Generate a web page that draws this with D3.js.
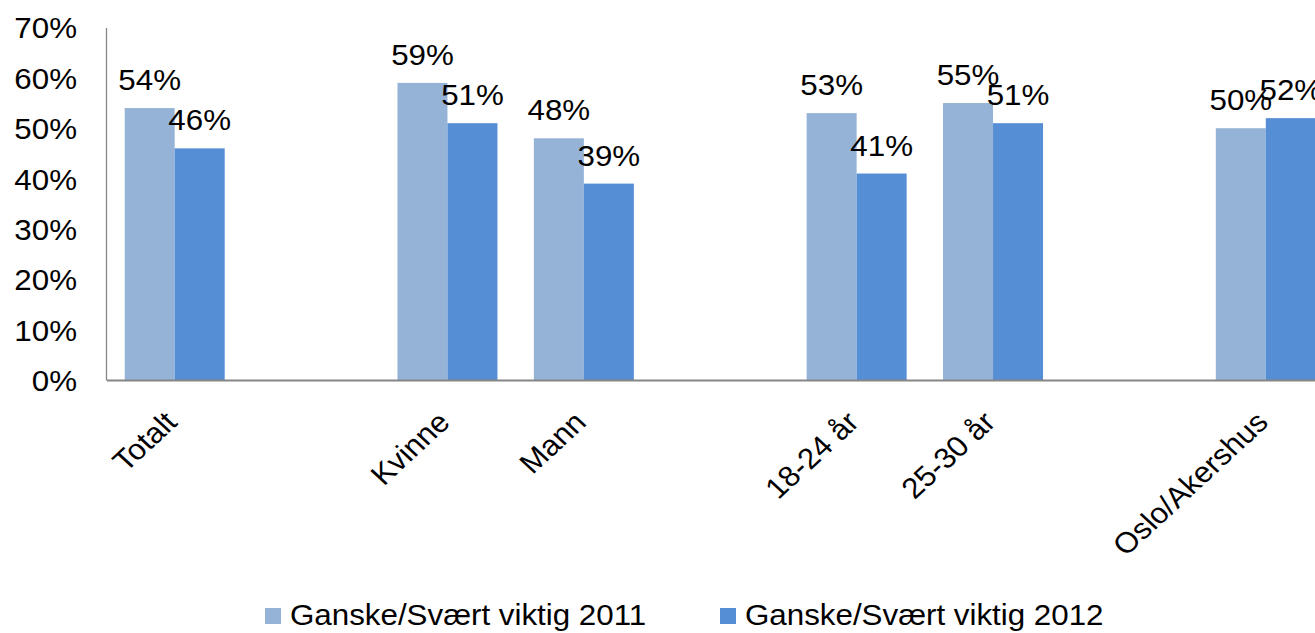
<!DOCTYPE html>
<html>
<head>
<meta charset="utf-8">
<script src="https://cdn.jsdelivr.net/npm/d3@7"></script>
<style>
  body { margin: 0; background: #fff; }
  svg { display: block; font-family: "Liberation Sans", Arial, sans-serif; }
  .axis text { fill: #000; }
</style>
</head>
<body>
<svg width="1315" height="633"></svg>
<script>
// chart data (empty strings are the gaps between groups)
var categories = ['Totalt', '', 'Kvinne', 'Mann', '', '18-24 år', '25-30 år', '', 'Oslo/Akershus'];
var seriesNames = ['Ganske/Svært viktig 2011', 'Ganske/Svært viktig 2012'];
var values2011 = [0.54, null, 0.59, 0.48, null, 0.53, 0.55, null, 0.50];
var values2012 = [0.46, null, 0.51, 0.39, null, 0.41, 0.51, null, 0.52];
var yTicks = [0, 0.1, 0.2, 0.3, 0.4, 0.5, 0.6, 0.7];
var colors = ['#95b3d7', '#558ed5'];

var svg = d3.select('svg');
var fontSize = 29;
var stretch = 1.08;   // the source text is a bit wider than plain Arial

var x0 = d3.scaleBand()
    .domain(d3.range(categories.length))
    .range([106.5, 1334]);

var x1 = d3.scaleBand()
    .domain([0, 1])
    .range([0, x0.bandwidth()])
    .paddingOuter(0.364);

var y = d3.scaleLinear()
    .domain([0, 0.7])
    .range([380, 27.5]);

// build rows for the bars
var rows = [];
categories.forEach(function(c, i) {
    [values2011[i], values2012[i]].forEach(function(v, s) {
        if (v != null) rows.push({cat: i, s: s, value: v});
    });
});

// y axis
var yAxis = d3.axisLeft(y)
    .tickValues(yTicks)
    .tickSize(0)
    .tickPadding(29)
    .tickFormat(d3.format('.0%'));

var yG = svg.append('g')
    .attr('class', 'axis')
    .attr('transform', 'translate(106,0)')
    .call(yAxis);
yG.select('.domain').attr('stroke', '#868686').attr('stroke-width', 1.3);
yG.selectAll('text')
    .attr('font-size', fontSize)
    .attr('dy', '0.36em')
    .attr('transform', function(d) {
        // stretch around the right edge of the label
        return 'translate(-29,' + y(d) + ') scale(' + stretch + ',1) translate(29,' + (-y(d)) + ')';
    });

// bars
svg.append('g').selectAll('rect')
    .data(rows)
    .enter()
    .append('rect')
    .attr('x', function(d) { return x0(d.cat) + x1(d.s); })
    .attr('y', function(d) { return y(d.value); })
    .attr('width', x1.bandwidth())
    .attr('height', function(d) { return y(0) - y(d.value); })
    .attr('fill', function(d) { return colors[d.s]; });

// value labels
svg.append('g').selectAll('text')
    .data(rows)
    .enter()
    .append('text')
    .attr('text-anchor', 'middle')
    .attr('font-size', fontSize)
    .attr('transform', function(d) {
        var cx = x0(d.cat) + x1(d.s) + x1.bandwidth() / 2;
        return 'translate(' + cx + ',' + (y(d.value) - 18) + ') scale(' + stretch + ',1)';
    })
    .text(function(d) { return Math.round(d.value * 100) + '%'; });

// x axis
var xAxis = d3.axisBottom(x0)
    .tickSize(0)
    .tickFormat(function(i) { return categories[i]; });

var xG = svg.append('g')
    .attr('class', 'axis')
    .attr('transform', 'translate(0,380)')
    .call(xAxis);
xG.select('.domain').attr('stroke', '#868686').attr('stroke-width', 2);
xG.selectAll('.tick text')
    .attr('font-size', fontSize)
    .attr('text-anchor', 'end')
    .attr('x', null)
    .attr('y', null)
    .attr('dy', null)
    .attr('transform', 'translate(4,44) scale(' + stretch + ',1) rotate(-45)');

// legend
var legendX = [265, 720];
var legend = svg.append('g').selectAll('g')
    .data(seriesNames)
    .enter()
    .append('g')
    .attr('transform', function(d, i) { return 'translate(' + legendX[i] + ',608)'; });

legend.append('rect')
    .attr('width', 16)
    .attr('height', 16)
    .attr('fill', function(d, i) { return colors[i]; });

legend.append('text')
    .attr('font-size', fontSize)
    .attr('transform', 'translate(25,17) scale(' + stretch + ',1)')
    .text(function(d) { return d; });
</script>
</body>
</html>
